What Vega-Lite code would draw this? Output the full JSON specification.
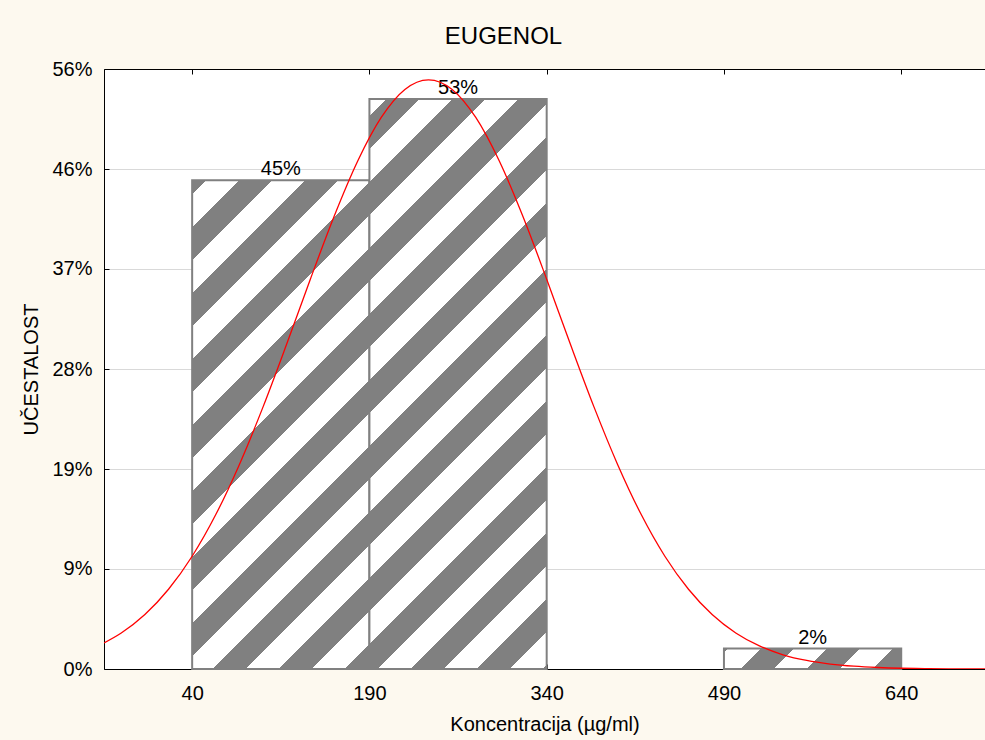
{
  "$schema": "https://vega.github.io/schema/vega-lite/v6.json",
  "autosize": {"type": "none"},
  "padding": {"left": 104, "top": 69, "right": 0, "bottom": 71},
  "width": 881,
  "height": 600,
  "background": "#FDF9EF",
  "title": {"text": "EUGENOL", "fontSize": 24, "fontWeight": "normal", "font": "Liberation Sans", "color": "black", "anchor": "middle", "offset": 10, "dx": -41},
  "datasets": {
    "bars": [
      {"from": 40, "to": 190, "mid": 115, "pct": 45.28, "label": "45%"},
      {"from": 190, "to": 340, "mid": 265, "pct": 52.83, "label": "53%"},
      {"from": 490, "to": 640, "mid": 565, "pct": 1.89, "label": "2%"}
    ],
    "curve": [
      {"x": -34.6, "y": 2.42}, {"x": -20, "y": 3.34}, {"x": 0, "y": 5.05}, {"x": 20, "y": 7.39},
      {"x": 40, "y": 10.45}, {"x": 60, "y": 14.31}, {"x": 80, "y": 18.96}, {"x": 100, "y": 24.29},
      {"x": 120, "y": 30.11}, {"x": 140, "y": 36.12}, {"x": 160, "y": 41.91}, {"x": 180, "y": 47.05},
      {"x": 200, "y": 51.11}, {"x": 220, "y": 53.71}, {"x": 240, "y": 54.6}, {"x": 260, "y": 53.71},
      {"x": 280, "y": 51.11}, {"x": 300, "y": 47.05}, {"x": 320, "y": 41.91}, {"x": 340, "y": 36.12},
      {"x": 360, "y": 30.11}, {"x": 380, "y": 24.29}, {"x": 400, "y": 18.96}, {"x": 420, "y": 14.31},
      {"x": 440, "y": 10.45}, {"x": 460, "y": 7.39}, {"x": 480, "y": 5.05}, {"x": 500, "y": 3.34},
      {"x": 520, "y": 2.14}, {"x": 540, "y": 1.32}, {"x": 560, "y": 0.79}, {"x": 580, "y": 0.46},
      {"x": 600, "y": 0.26}, {"x": 620, "y": 0.14}, {"x": 640, "y": 0.07}, {"x": 660, "y": 0.04},
      {"x": 680, "y": 0.02}, {"x": 700, "y": 0.01}, {"x": 710.9, "y": 0.006}
    ]
  },
  "resolve": {"axis": {"x": "independent"}},
  "layer": [
    {
      "data": {"name": "bars"},
      "transform": [{"filter": "datum.from == 40"}],
      "mark": {"type": "rect", "stroke": "#808080", "strokeWidth": 2, "fill": {"gradient": "linear", "x1": 0, "y1": 0, "x2": 0.43688, "y2": 1.20428, "stops": [
        {"offset": 0, "color": "#808080"}, {"offset": 0.02053, "color": "#808080"}, {"offset": 0.02053, "color": "#ffffff"}, {"offset": 0.07009, "color": "#ffffff"},
        {"offset": 0.07009, "color": "#808080"}, {"offset": 0.11964, "color": "#808080"}, {"offset": 0.11964, "color": "#ffffff"}, {"offset": 0.16920, "color": "#ffffff"},
        {"offset": 0.16920, "color": "#808080"}, {"offset": 0.21876, "color": "#808080"}, {"offset": 0.21876, "color": "#ffffff"}, {"offset": 0.26831, "color": "#ffffff"},
        {"offset": 0.26831, "color": "#808080"}, {"offset": 0.31787, "color": "#808080"}, {"offset": 0.31787, "color": "#ffffff"}, {"offset": 0.36743, "color": "#ffffff"},
        {"offset": 0.36743, "color": "#808080"}, {"offset": 0.41699, "color": "#808080"}, {"offset": 0.41699, "color": "#ffffff"}, {"offset": 0.46654, "color": "#ffffff"},
        {"offset": 0.46654, "color": "#808080"}, {"offset": 0.51610, "color": "#808080"}, {"offset": 0.51610, "color": "#ffffff"}, {"offset": 0.56566, "color": "#ffffff"},
        {"offset": 0.56566, "color": "#808080"}, {"offset": 0.61522, "color": "#808080"}, {"offset": 0.61522, "color": "#ffffff"}, {"offset": 0.66477, "color": "#ffffff"},
        {"offset": 0.66477, "color": "#808080"}, {"offset": 0.71433, "color": "#808080"}, {"offset": 0.71433, "color": "#ffffff"}, {"offset": 0.76389, "color": "#ffffff"},
        {"offset": 0.76389, "color": "#808080"}, {"offset": 0.81345, "color": "#808080"}, {"offset": 0.81345, "color": "#ffffff"}, {"offset": 0.86300, "color": "#ffffff"},
        {"offset": 0.86300, "color": "#808080"}, {"offset": 0.91256, "color": "#808080"}, {"offset": 0.91256, "color": "#ffffff"}, {"offset": 0.96213, "color": "#ffffff"},
        {"offset": 0.96213, "color": "#808080"}, {"offset": 1, "color": "#808080"}
      ]}},
      "encoding": {
        "x": {"field": "from", "type": "quantitative", "scale": {"domain": [-34.6, 710.9], "nice": false, "zero": false},
              "axis": {"orient": "bottom", "values": [40, 190, 340, 490, 640], "grid": false, "tickSize": -5, "labelPadding": 19, "labelFlush": false, "title": "Koncentracija (µg/ml)", "titlePadding": 11}},
        "x2": {"field": "to"},
        "y": {"field": "pct", "type": "quantitative", "scale": {"domain": [0, 55.6], "nice": false, "zero": true},
              "axis": {"values": [0, 9.2667, 18.5333, 27.8, 37.0667, 46.3333, 55.6], "grid": true, "tickSize": -5, "labelPadding": 17, "labelExpr": "format(round(datum.value), 'd') + '%'", "title": "UČESTALOST", "titlePadding": 10}},
        "y2": {"datum": 0}
      }
    },
    {
      "data": {"name": "bars"},
      "transform": [{"filter": "datum.from == 190"}],
      "mark": {"type": "rect", "stroke": "#808080", "strokeWidth": 2, "fill": {"gradient": "linear", "x1": 0, "y1": 0, "x2": 0.37168, "y2": 1.19535, "stops": [
        {"offset": 0, "color": "#ffffff"}, {"offset": 0.02260, "color": "#ffffff"}, {"offset": 0.02260, "color": "#808080"}, {"offset": 0.06675, "color": "#808080"},
        {"offset": 0.06675, "color": "#ffffff"}, {"offset": 0.11091, "color": "#ffffff"}, {"offset": 0.11091, "color": "#808080"}, {"offset": 0.15506, "color": "#808080"},
        {"offset": 0.15506, "color": "#ffffff"}, {"offset": 0.19922, "color": "#ffffff"}, {"offset": 0.19922, "color": "#808080"}, {"offset": 0.24337, "color": "#808080"},
        {"offset": 0.24337, "color": "#ffffff"}, {"offset": 0.28753, "color": "#ffffff"}, {"offset": 0.28753, "color": "#808080"}, {"offset": 0.33168, "color": "#808080"},
        {"offset": 0.33168, "color": "#ffffff"}, {"offset": 0.37583, "color": "#ffffff"}, {"offset": 0.37583, "color": "#808080"}, {"offset": 0.41999, "color": "#808080"},
        {"offset": 0.41999, "color": "#ffffff"}, {"offset": 0.46414, "color": "#ffffff"}, {"offset": 0.46414, "color": "#808080"}, {"offset": 0.50830, "color": "#808080"},
        {"offset": 0.50830, "color": "#ffffff"}, {"offset": 0.55245, "color": "#ffffff"}, {"offset": 0.55245, "color": "#808080"}, {"offset": 0.59661, "color": "#808080"},
        {"offset": 0.59661, "color": "#ffffff"}, {"offset": 0.64076, "color": "#ffffff"}, {"offset": 0.64076, "color": "#808080"}, {"offset": 0.68491, "color": "#808080"},
        {"offset": 0.68491, "color": "#ffffff"}, {"offset": 0.72907, "color": "#ffffff"}, {"offset": 0.72907, "color": "#808080"}, {"offset": 0.77322, "color": "#808080"},
        {"offset": 0.77322, "color": "#ffffff"}, {"offset": 0.81738, "color": "#ffffff"}, {"offset": 0.81738, "color": "#808080"}, {"offset": 0.86153, "color": "#808080"},
        {"offset": 0.86153, "color": "#ffffff"}, {"offset": 0.90568, "color": "#ffffff"}, {"offset": 0.90568, "color": "#808080"}, {"offset": 0.94984, "color": "#808080"},
        {"offset": 0.94984, "color": "#ffffff"}, {"offset": 0.99399, "color": "#ffffff"}, {"offset": 0.99399, "color": "#808080"}, {"offset": 1, "color": "#808080"}
      ]}},
      "encoding": {
        "x": {"field": "from", "type": "quantitative", "scale": {"domain": [-34.6, 710.9], "nice": false, "zero": false},
              "axis": {"orient": "top", "values": [40, 190, 340, 490, 640], "grid": false, "tickSize": -5, "labels": false, "title": null}},
        "x2": {"field": "to"},
        "y": {"field": "pct", "type": "quantitative", "scale": {"domain": [0, 55.6], "nice": false, "zero": true}},
        "y2": {"datum": 0}
      }
    },
    {
      "data": {"name": "bars"},
      "transform": [{"filter": "datum.from == 490"}],
      "mark": {"type": "rect", "stroke": "#808080", "strokeWidth": 2, "fill": {"gradient": "linear", "x1": 0, "y1": 0, "x2": 1.10033, "y2": 0.12638, "stops": [
        {"offset": 0, "color": "#808080"}, {"offset": 0.01827, "color": "#808080"}, {"offset": 0.01827, "color": "#ffffff"}, {"offset": 0.18525, "color": "#ffffff"},
        {"offset": 0.18525, "color": "#808080"}, {"offset": 0.35222, "color": "#808080"}, {"offset": 0.35222, "color": "#ffffff"}, {"offset": 0.51920, "color": "#ffffff"},
        {"offset": 0.51920, "color": "#808080"}, {"offset": 0.68618, "color": "#808080"}, {"offset": 0.68618, "color": "#ffffff"}, {"offset": 0.85316, "color": "#ffffff"},
        {"offset": 0.85316, "color": "#808080"}, {"offset": 1, "color": "#808080"}
      ]}},
      "encoding": {
        "x": {"field": "from", "type": "quantitative", "scale": {"domain": [-34.6, 710.9], "nice": false, "zero": false}, "axis": null},
        "x2": {"field": "to"},
        "y": {"field": "pct", "type": "quantitative", "scale": {"domain": [0, 55.6], "nice": false, "zero": true}},
        "y2": {"datum": 0}
      }
    },
    {
      "data": {"name": "bars"},
      "mark": {"type": "text", "fontSize": 20, "font": "Liberation Sans", "color": "black", "baseline": "alphabetic", "align": "center", "dy": -5},
      "encoding": {
        "x": {"field": "mid", "type": "quantitative", "scale": {"domain": [-34.6, 710.9], "nice": false, "zero": false}, "axis": null},
        "y": {"field": "pct", "type": "quantitative", "scale": {"domain": [0, 55.6], "nice": false, "zero": true}},
        "text": {"field": "label"}
      }
    },
    {
      "data": {"name": "curve"},
      "mark": {"type": "line", "color": "#FF0000", "strokeWidth": 1.3, "interpolate": "monotone", "clip": true},
      "encoding": {
        "x": {"field": "x", "type": "quantitative", "scale": {"domain": [-34.6, 710.9], "nice": false, "zero": false}, "axis": null},
        "y": {"field": "y", "type": "quantitative", "scale": {"domain": [0, 55.6], "nice": false, "zero": true}}
      }
    }
  ],
  "config": {
    "font": "Liberation Sans",
    "view": {"stroke": null, "fill": "white"},
    "axis": {
      "labelFont": "Liberation Sans", "labelFontSize": 20, "labelColor": "black",
      "titleFont": "Liberation Sans", "titleFontSize": 20, "titleFontWeight": "normal", "titleColor": "black",
      "domainColor": "black", "domainWidth": 1, "tickColor": "black", "tickWidth": 1,
      "gridColor": "#d9d9d9", "gridWidth": 1
    }
  }
}
